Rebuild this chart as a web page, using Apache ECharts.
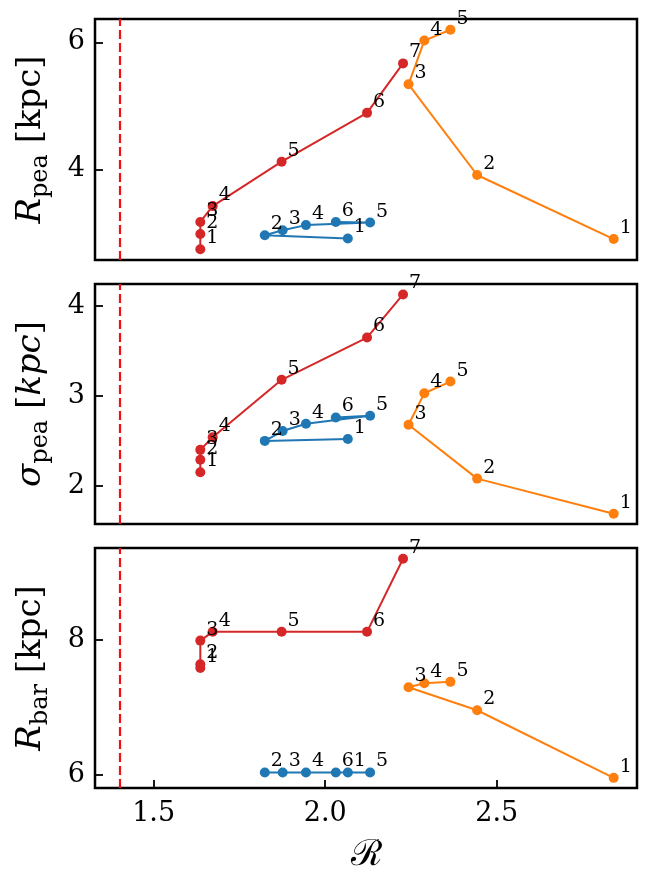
<!DOCTYPE html>
<html>
<head>
<meta charset="utf-8">
<script src="https://cdn.jsdelivr.net/npm/echarts@6/dist/echarts.min.js"></script>
<style>
html,body{margin:0;padding:0;background:#fff;}
#c{width:646px;height:886px;}
</style>
</head>
<body>
<div id="c"></div>
<script>
// ---- data ----
const redX    = [1.636, 1.636, 1.636, 1.672, 1.873, 2.122, 2.227];
const redRpea = [2.74, 2.98, 3.17, 3.42, 4.12, 4.89, 5.67];
const redSig  = [2.15, 2.29, 2.40, 2.54, 3.18, 3.65, 4.13];
const redRbar = [7.585, 7.64, 7.99, 8.12, 8.12, 8.12, 9.20];

const blueX    = [2.066, 1.824, 1.876, 1.944, 2.131, 2.031];
const blueRpea = [2.91, 2.96, 3.04, 3.12, 3.16, 3.17];
const blueSig  = [2.52, 2.50, 2.61, 2.69, 2.78, 2.76];
const blueRbar = [6.04, 6.04, 6.04, 6.04, 6.04, 6.04];

const orangeX    = [2.841, 2.443, 2.243, 2.289, 2.365];
const orangeRpea = [2.90, 3.91, 5.34, 6.03, 6.20];
const orangeSig  = [1.69, 2.08, 2.68, 3.03, 3.16];
const orangeRbar = [5.96, 6.96, 7.30, 7.36, 7.38];

const xTicks = [1.5, 2.0, 2.5];
const yTicks = [[4, 6], [2, 3, 4], [6, 8]];
const yRanges = [[2.57, 6.37], [1.575, 4.246], [5.81, 9.36]];
const xRange = [1.329, 2.909];
const critValue = 1.4;

// ---- chart ----
const FONT = 'DejaVu Serif';
const colors = {red: '#d62728', blue: '#1f77b4', orange: '#ff7f0e'};
const tops = [19, 284, 548];
const heights = [241, 240, 240];

const grids = tops.map((t, i) => ({
  left: 95, right: 9, top: t, height: heights[i],
  show: true, borderColor: '#000', borderWidth: 2.5, backgroundColor: 'transparent'
}));

const rich = {
  it: {fontFamily: FONT, fontStyle: 'italic', fontSize: 34, color: '#000'},
  n: {fontFamily: FONT, fontSize: 34, color: '#000'},
  sub: {fontFamily: FONT, fontSize: 24, color: '#000', padding: [19, 0, 0, 0]}
};
const yNames = [
  '{it|R}{sub|pea}{n| [kpc]}',
  '{it|σ}{sub|pea}{n| [}{it|kpc}{n|]}',
  '{it|R}{sub|bar}{n| [kpc]}'
];

const xAxes = [0, 1, 2].map(i => ({
  type: 'value', gridIndex: i, min: xRange[0], max: xRange[1],
  axisLine: {show: false},
  splitLine: {show: false},
  axisTick: {show: i === 2, inside: true, length: 8, lineStyle: {color: '#000', width: 1.8}, customValues: xTicks},
  axisLabel: {show: i === 2, customValues: xTicks, fontFamily: FONT, fontSize: 27, color: '#000', margin: 12,
    formatter: v => v.toFixed(1)},
  name: i === 2 ? 'ℛ' : '',
  nameLocation: 'middle', nameGap: 50,
  nameTextStyle: {fontFamily: FONT, fontSize: 36, color: '#000'}
}));

const yAxes = [0, 1, 2].map(i => ({
  type: 'value', gridIndex: i, min: yRanges[i][0], max: yRanges[i][1],
  axisLine: {show: false},
  splitLine: {show: false},
  axisTick: {show: true, inside: true, length: 8, lineStyle: {color: '#000', width: 1.8}, customValues: yTicks[i]},
  axisLabel: {customValues: yTicks[i], fontFamily: FONT, fontSize: 27, color: '#000', margin: 10},
  name: yNames[i], nameLocation: 'middle', nameGap: 42, nameRotate: 90,
  nameTextStyle: {rich: rich}
}));

function mk(xs, ys, color, gi, extra) {
  const s = {
    type: 'line', xAxisIndex: gi, yAxisIndex: gi,
    data: xs.map((x, k) => [x, ys[k]]),
    symbol: 'circle', symbolSize: 10,
    itemStyle: {color: color},
    lineStyle: {color: color, width: 2},
    label: {show: true, position: 'right', distance: 1, offset: [0, -11],
      formatter: p => String(p.dataIndex + 1),
      fontFamily: FONT, fontSize: 19, color: '#000'},
    z: 3, animation: false
  };
  return Object.assign(s, extra || {});
}

const series = [];
const sets = [
  [redRpea, blueRpea, orangeRpea],
  [redSig, blueSig, orangeSig],
  [redRbar, blueRbar, orangeRbar]
];
for (let g = 0; g < 3; g++) {
  series.push(mk(blueX, sets[g][1], colors.blue, g));
  series.push(mk(redX, sets[g][0], colors.red, g, {
    markLine: {
      silent: true, symbol: ['none', 'none'], label: {show: false},
      lineStyle: {color: '#f01010', type: [9, 4], width: 2.2},
      data: [{xAxis: critValue}], animation: false
    }
  }));
  series.push(mk(orangeX, sets[g][2], colors.orange, g));
}

const chart = echarts.init(document.getElementById('c'), null, {renderer: 'canvas'});
chart.setOption({
  animation: false,
  backgroundColor: '#fff',
  grid: grids,
  xAxis: xAxes,
  yAxis: yAxes,
  series: series
});
</script>
</body>
</html>
